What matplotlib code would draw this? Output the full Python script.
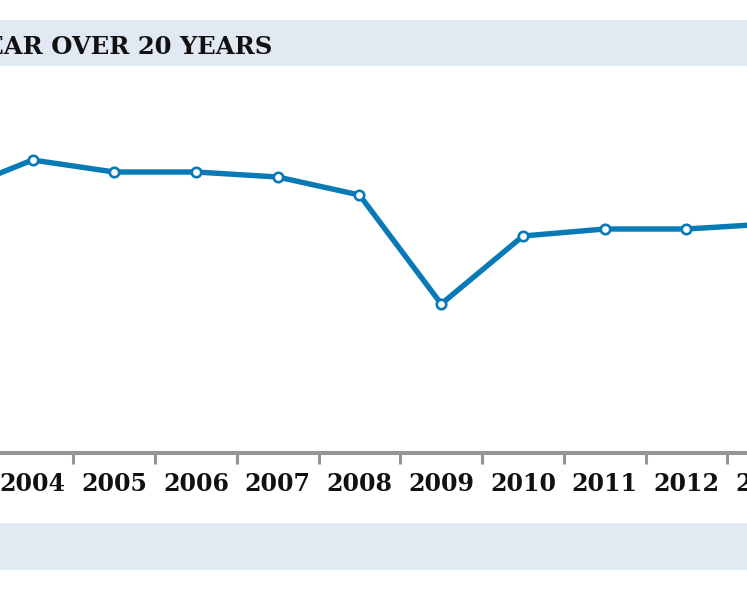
import numpy as np
import matplotlib.pyplot as plt
from matplotlib.patches import Rectangle
from matplotlib.ticker import FixedLocator

# values (no y axis is shown, so units are arbitrary)
years = [2003, 2004, 2005, 2006, 2007, 2008, 2009, 2010, 2011, 2012, 2013]
values = [26.0, 29.3, 28.1, 28.1, 27.6, 25.8, 14.9, 21.7, 22.4, 22.4, 22.9]
year_labels = [str(y) for y in years]
title = 'YEAR OVER 20 YEARS'

blue = '#0A7AB6'
grey = '#939598'
band = '#E1E9F2'

W, H = 747, 598
fig = plt.figure(figsize=(W / 100, H / 100), dpi=100)

# header and footer bands
fig.patches.append(Rectangle((0, 1 - 66 / H), 1, 46 / H, transform=fig.transFigure,
                             facecolor=band, edgecolor='none', zorder=0))
fig.patches.append(Rectangle((0, 1 - 570 / H), 1, 47 / H, transform=fig.transFigure,
                             facecolor=band, edgecolor='none', zorder=0))

fig.text(273 / W, 1 - 54 / H, title, ha='right', va='baseline',
         fontsize=17.5, fontweight='heavy', family='DejaVu Serif', color='#111111')

# the chart is a crop of a wider one: let the axes run past both figure edges
ext = 100
ax = fig.add_axes([-ext / W, (H - 453) / H, (W + 2 * ext) / W, (453 - 70) / H])
ax.plot(years, values, '-', color=blue, lw=3.9, solid_joinstyle='round',
        marker='o', ms=6.8, mfc='white', mec=blue, mew=1.9, zorder=3)

for s in ['top', 'left', 'right']:
    ax.spines[s].set_visible(False)
ax.spines['bottom'].set_color(grey)
ax.spines['bottom'].set_linewidth(2.9)
ax.set_yticks([])
ax.set_xticks(years)
ax.set_xticklabels(year_labels, fontsize=17, fontweight='bold',
                   family='DejaVu Serif', color='#111111')
ax.xaxis.set_minor_locator(FixedLocator(np.array(years[:-1]) + 0.5))
ax.tick_params(axis='x', which='major', length=0, pad=13.5)
ax.tick_params(axis='x', which='minor', length=8, width=2.2, color=grey)
ax.patch.set_alpha(0)

# limits last, so the ticks do not widen them
px_per_year = 81.75
ax.set_xlim(2004 - (32.5 + ext) / px_per_year, 2004 + (W + ext - 32.5) / px_per_year)
ax.set_ylim(0, 38.3)

fig.savefig('out.png', dpi=100)
